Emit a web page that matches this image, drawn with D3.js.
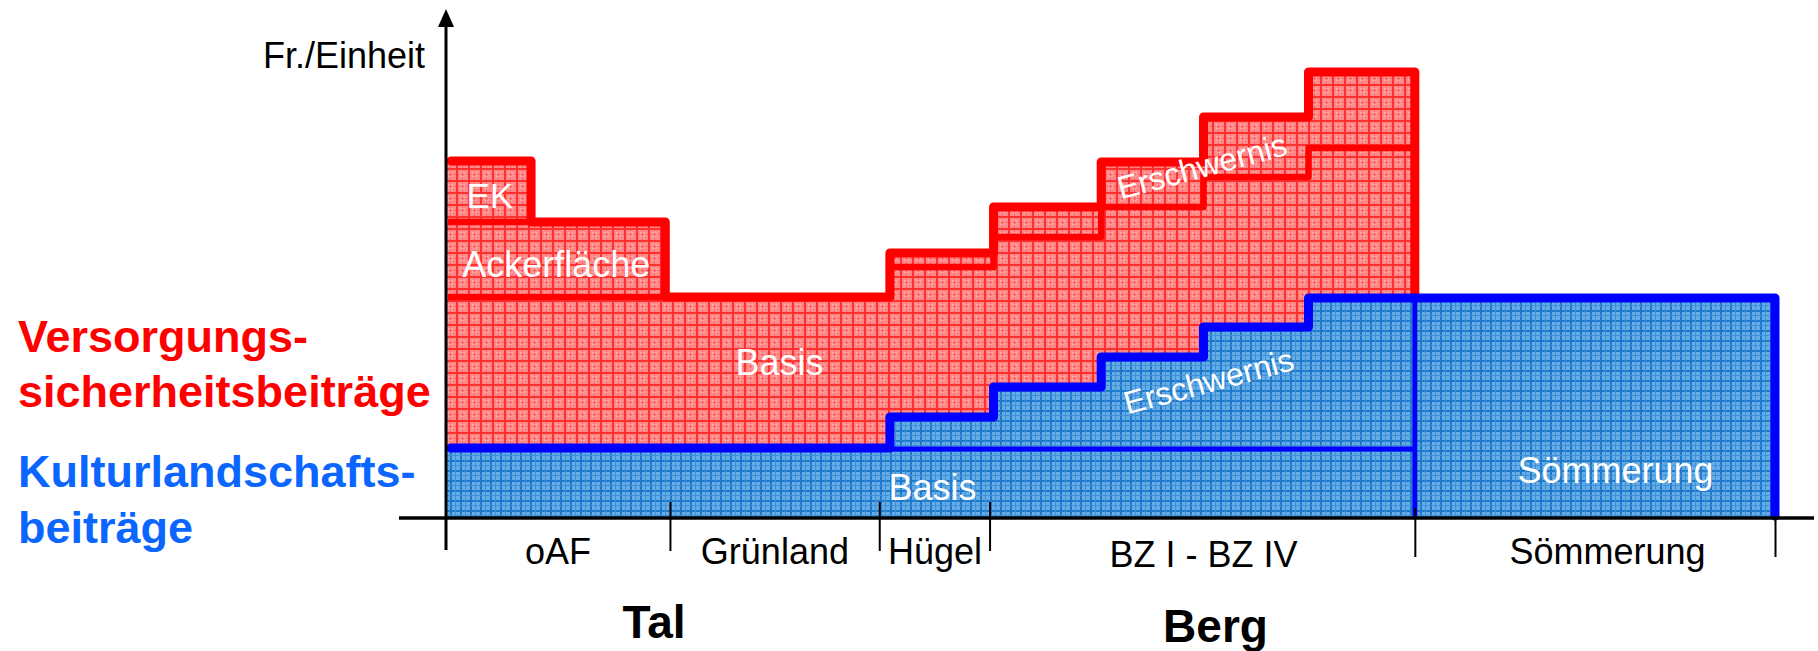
<!DOCTYPE html>
<html><head><meta charset="utf-8">
<script src="https://cdn.jsdelivr.net/npm/d3@7"></script>
<style>
body{margin:0;background:#fff;}
svg{display:block;}
text{font-family:"Liberation Sans",Arial,Helvetica,sans-serif;}
</style>
</head><body>
<svg id="chart" width="1818" height="651"></svg>
<script>
// ---------- data ----------
// x positions of segment edges (relative units, 0..100 along the x axis)
const segStart = [0, 6.4, 16.5, 33.4, 41.2, 49.3, 57.0, 64.9, 72.9];
const segEnd   = [6.4, 16.5, 33.4, 41.2, 49.3, 57.0, 64.9, 72.9, 100];
// Kulturlandschaftsbeiträge (blue), Fr./Einheit (relative units)
const klbBasis       = [70, 70, 70, 70, 70, 70, 70, 70, 0];
const klbErschwernis = [0, 0, 0, 31, 61, 91, 121, 150, 0];
const klbSoemmerung  = [0, 0, 0, 0, 0, 0, 0, 0, 220];
// Versorgungssicherheitsbeiträge (red)
const vsbBasis       = [151, 151, 151, 150, 150, 150, 150, 150, 0];
const vsbAcker       = [75, 75, 0, 0, 0, 0, 0, 0, 0];
const vsbEK          = [61, 0, 0, 0, 0, 0, 0, 0, 0];
const vsbErschwernis = [0, 0, 0, 14, 30, 45, 60, 76, 0];
// axis zones
const zoneTicks    = [16.85, 32.6, 40.9, 72.9, 100];
const zoneLabels   = ["oAF", "Grünland", "Hügel", "BZ I - BZ IV", "Sömmerung"];
const zoneLabelX   = [8.43, 24.75, 36.8, 57.0, 87.4];
const regionLabels = ["Tal", "Berg"];
const regionLabelX = [15.65, 57.9];
// in-chart labels: [text, x, baseline value, rotation]
const innerLabels = [
  ["EK", 3.3, 310, 0],
  ["Ackerfläche", 8.3, 241, 0],
  ["Basis", 25.1, 143, 0],
  ["Basis", 36.6, 18, 0],
  ["Sömmerung", 88.0, 35, 0],
  ["Erschwernis", 57.1, 341, -15],
  ["Erschwernis", 57.6, 126, -15]
];

// ---------- setup ----------
const svg = d3.select("#chart");
const x = d3.scaleLinear().domain([0, 100]).range([446, 1775]);
const y = d3.scaleLinear().domain([0, 509]).range([518, 9]);

const defs = svg.append("defs");
// red hatch pattern
const pr = defs.append("pattern").attr("id", "pr").attr("width", 12).attr("height", 12)
  .attr("patternUnits", "userSpaceOnUse");
pr.append("rect").attr("width", 12).attr("height", 12).attr("fill", "#ff8888");
pr.append("rect").attr("width", 12).attr("height", 2).attr("fill", "#ff3030");
pr.append("rect").attr("width", 2).attr("height", 12).attr("fill", "#ff3030");
pr.append("rect").attr("x", 6).attr("y", 2).attr("width", 1).attr("height", 10).attr("fill", "#ff6464");
pr.append("rect").attr("x", 2).attr("y", 6).attr("width", 10).attr("height", 1).attr("fill", "#ff6464");
pr.append("circle").attr("cx", 6.5).attr("cy", 6.5).attr("r", 2.5).attr("fill", "none").attr("stroke", "#ffb0b0").attr("stroke-width", 1);
// blue hatch pattern
const pb = defs.append("pattern").attr("id", "pb").attr("width", 10).attr("height", 10)
  .attr("patternUnits", "userSpaceOnUse");
pb.append("rect").attr("width", 10).attr("height", 10).attr("fill", "#66ade6");
pb.append("rect").attr("width", 10).attr("height", 2).attr("fill", "#1f7acb");
pb.append("rect").attr("width", 2).attr("height", 10).attr("fill", "#1f7acb");
pb.append("rect").attr("x", 5).attr("width", 1).attr("height", 10).attr("fill", "#3f90d8");
pb.append("rect").attr("y", 5).attr("width", 10).attr("height", 1).attr("fill", "#3f90d8");

// ---------- stacked fills ----------
const rows = segStart.map((s, i) => ({
  i, s, e: segEnd[i],
  klbBasis: klbBasis[i], klbErschwernis: klbErschwernis[i], klbSoemmerung: klbSoemmerung[i],
  vsbBasis: vsbBasis[i], vsbAcker: vsbAcker[i], vsbEK: vsbEK[i], vsbErschwernis: vsbErschwernis[i]
}));
const keys = ["klbBasis", "klbErschwernis", "klbSoemmerung", "vsbBasis", "vsbAcker", "vsbEK", "vsbErschwernis"];
const stacked = d3.stack().keys(keys)(rows);
const fillFor = k => k.startsWith("klb") ? "url(#pb)" : "url(#pr)";

svg.append("g").selectAll("g").data(stacked).join("g")
  .attr("fill", d => fillFor(d.key))
  .selectAll("rect").data(d => d.filter(p => p[1] > p[0])).join("rect")
  .attr("x", p => x(p.data.s))
  .attr("width", p => x(p.data.e) - x(p.data.s))
  .attr("y", p => y(p[1]))
  .attr("height", p => y(p[0]) - y(p[1]))
  .attr("shape-rendering", "crispEdges");

// helpers
const blueTop = rows.map(r => r.klbBasis + r.klbErschwernis + r.klbSoemmerung);
const redTop = rows.map((r, i) => blueTop[i] + r.vsbBasis + r.vsbAcker + r.vsbEK + r.vsbErschwernis);
const stepLine = d3.line().x(d => d[0]).y(d => d[1]).curve(d3.curveStepAfter);

function runs(pred) {
  const out = []; let cur = null;
  rows.forEach((r, i) => {
    if (pred(i)) { if (!cur) { cur = []; out.push(cur); } cur.push(i); }
    else cur = null;
  });
  return out;
}
function stepPts(idx, valFn) {
  const pts = idx.map(i => [x(segStart[i]), y(valFn(i))]);
  const last = idx[idx.length - 1];
  pts.push([x(segEnd[last]), y(valFn(last))]);
  return pts;
}

// red inner boundaries
const redInner = svg.append("g").attr("fill", "none").attr("stroke", "#ff0000")
  .attr("stroke-width", 6.5).attr("stroke-linejoin", "round");
runs(i => vsbAcker[i] + vsbEK[i] + vsbErschwernis[i] > 0).forEach(run => {
  const pts = stepPts(run, i => blueTop[i] + vsbBasis[i]);
  if (run[0] === 0) pts[0][0] += 2;
  redInner.append("path").attr("d", stepLine(pts));
});
runs(i => vsbEK[i] > 0).forEach(run => {
  const pts = stepPts(run, i => blueTop[i] + vsbBasis[i] + vsbAcker[i]);
  if (run[0] === 0) pts[0][0] += 2;
  redInner.append("path").attr("d", stepLine(pts));
});

// red outline
{
  const run = d3.range(0, 8);
  const pts = stepPts(run, i => redTop[i]);
  pts[0][0] += 5;
  pts.push([x(segEnd[7]), y(blueTop[8])]);
  svg.append("path").attr("d", stepLine(pts)).attr("fill", "none")
    .attr("stroke", "#ff0000").attr("stroke-width", 9)
    .attr("stroke-linejoin", "round").attr("stroke-linecap", "round");
}

// blue thin lines
const blueThin = svg.append("g").attr("fill", "none").attr("stroke", "#0000ff").attr("stroke-width", 5);
runs(i => klbErschwernis[i] > 0).forEach(run => {
  blueThin.append("path").attr("d", stepLine(stepPts(run, i => klbBasis[i] - 1)));
});
blueThin.append("line")
  .attr("x1", x(segStart[8])).attr("x2", x(segStart[8]))
  .attr("y1", y(blueTop[8])).attr("y2", y(0));

// blue outline
{
  const pts = stepPts(d3.range(0, 9), i => blueTop[i]);
  pts[0][0] += 5;
  pts.push([x(100), y(2)]);
  svg.append("path").attr("d", stepLine(pts)).attr("fill", "none")
    .attr("stroke", "#0000ff").attr("stroke-width", 9)
    .attr("stroke-linejoin", "round").attr("stroke-linecap", "round");
}

// ---------- axes ----------
const xAxis = d3.axisBottom(x).tickValues(zoneTicks).tickFormat("").tickSizeOuter(0);
const gx = svg.append("g").attr("transform", `translate(0,${y(0)})`).call(xAxis);
gx.select(".domain").remove();
gx.selectAll(".tick line").attr("stroke", "#000").attr("stroke-width", 2)
  .attr("y1", d => d >= 72.9 ? (d === 100 ? 0 : -10) : -16)
  .attr("y2", d => d >= 72.9 ? 39 : 33);
svg.append("line").attr("x1", 399).attr("x2", 1814).attr("y1", y(0)).attr("y2", y(0))
  .attr("stroke", "#000").attr("stroke-width", 3.5);

const yAxis = d3.axisLeft(y).tickValues([]).tickSizeOuter(0);
const gy = svg.append("g").attr("transform", `translate(${x(0)},0)`).call(yAxis);
gy.select(".domain").remove();
svg.append("line").attr("x1", x(0)).attr("x2", x(0)).attr("y1", 22).attr("y2", 550)
  .attr("stroke", "#000").attr("stroke-width", 3);
svg.append("path")
  .attr("d", `M${x(0)},9 L${x(0) - 8},27 L${x(0) + 8},27 Z`).attr("fill", "#000");
svg.append("text").attr("x", x(0) - 21).attr("y", 68).attr("text-anchor", "end")
  .attr("font-size", 36).attr("fill", "#000").text("Fr./Einheit");

// zone labels
svg.append("g").selectAll("text").data(zoneLabels).join("text")
  .attr("x", (d, i) => x(zoneLabelX[i])).attr("y", (d, i) => i === 3 ? 567 : 564)
  .attr("text-anchor", "middle").attr("font-size", 36).attr("fill", "#000")
  .text(d => d);
svg.append("g").selectAll("text").data(regionLabels).join("text")
  .attr("x", (d, i) => x(regionLabelX[i])).attr("y", (d, i) => i === 0 ? 638 : 642)
  .attr("text-anchor", "middle").attr("font-size", 46).attr("font-weight", "bold").attr("fill", "#000")
  .text(d => d);

// inner labels
svg.append("g").selectAll("text").data(innerLabels).join("text")
  .attr("transform", d => `translate(${x(d[1])},${y(d[2])}) rotate(${d[3]})`)
  .attr("text-anchor", "middle")
  .attr("font-size", d => d[3] ? 32 : (d[0] === "EK" ? 35 : 36))
  .attr("fill", "#fff").text(d => d[0]);

// left titles
const titles = [
  ["Versorgungs-", 352, "#ff0000"],
  ["sicherheitsbeiträge", 407, "#ff0000"],
  ["Kulturlandschafts-", 487, "#0a66ff"],
  ["beiträge", 543, "#0a66ff"]
];
svg.append("g").selectAll("text").data(titles).join("text")
  .attr("x", 18).attr("y", d => d[1]).attr("font-size", 45).attr("font-weight", "bold")
  .attr("fill", d => d[2]).text(d => d[0]);
</script>
</body></html>
